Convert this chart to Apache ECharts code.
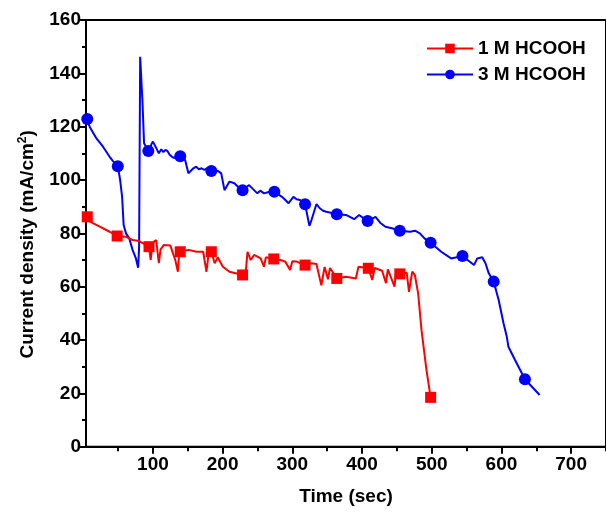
<!DOCTYPE html>
<html>
<head>
<meta charset="utf-8">
<script src="https://cdn.jsdelivr.net/npm/echarts@6/dist/echarts.min.js"></script>
<style>html,body{margin:0;padding:0;background:#fff}#c{width:606px;height:516px}</style>
</head>
<body>
<div id="c"></div>
<script>
const seriesNames = ['1 M HCOOH', '3 M HCOOH'];
const time1 = [4,5.8,9.6,23.7,37.9,48.7,61.4,70.8,80.2,94.4,96.8,99,101.4,104.7,108.5,111,115.6,125,132.1,135.8,137.5,139.2,150.9,162.6,172.1,176.8,180,183.8,188.6,193,200.3,209.8,228.6,233,235.7,240.3,245.1,254.5,259.3,262,273.4,282.7,289.8,296.8,300,306.3,318.3,327.5,334.6,341.6,346.3,351.1,354,363.8,377,391.1,394.9,409,414.7,418,428.8,434.4,437,446.6,449,454.2,464.1,467.4,472,475.8,480.5,485.3,492.4,498.4];
const current1 = [86.5,86.2,84.4,82.5,80.6,79,78.7,77.5,77.1,75,70,75.5,76.9,77.5,68.8,74,75.6,75.4,70,65.6,72,73.1,73.8,73.1,73.1,65.6,72.5,73.1,68.8,71,67.5,65.6,64.4,65,73.1,70,71.9,70.6,67.5,71,70.4,70,69.4,66.3,69.5,69.4,68.1,68.8,68.5,60.5,67.4,62.8,67,63.1,63.7,63.1,67.5,66.9,62.5,67,66,61.3,66.5,60,66,64.8,65.2,58.1,65.6,64.4,57.5,43.8,28.8,18.5];
const markers1 = [5.8,48.7,94.4,139.2,183.8,228.6,273.4,318.3,363.8,409,454.2,498.4];

const time2 = [4,5.8,9.6,19,28.4,37.9,43,49.6,53,55.8,58,61.4,66.1,70.8,75.6,78.8,80.2,81.7,84.9,87.3,93.4,96,98,100,103.8,108.5,112,115,118,121,124,127.3,131,135,139.2,146.2,150.9,158,162,166,169.7,174,178,183.8,188,193,198,202.7,209.8,216.9,222,228.6,238,244,249.8,254,259.3,266,274.2,285.1,290,294.6,301.6,306,311,318.3,324.5,327.5,334.6,339,344,348.7,363.8,377,388.7,395.8,408,419.3,426,433.5,442.9,454.2,468.8,476,482.9,490,498.4,513.6,527.7,544.1,560.6,565.3,572.4,577.1,581.8,588.9,596,603,607.7,610,619.5,633.7,654.8];
const current2 = [123.5,122.9,119.8,115.6,112.5,108.7,107,105.2,100,93.7,83.1,80,78.1,73.8,70.6,67.1,75,146.2,130,113.8,110.9,112,113.5,114.4,112.5,110,111.5,110.5,111.3,110.8,109.5,108.7,108.2,109.5,108.9,107.5,102.5,104.4,105,104,104.4,103.8,104.5,103.4,103,103.5,102.5,96.2,99.4,98.8,97.5,96.2,98.1,96.5,95,96,95,95.5,95.6,93.7,92.5,91.3,93.7,92.8,92.5,90.9,82.8,85,91,89.5,88.5,88.1,87.2,86.9,85.3,86.9,84.6,86.2,84,82.5,81.9,81,80.6,81,80,78,76.5,73.1,70.6,71.5,68.1,70.6,71,68.8,65,61.9,55,46.3,41.2,37.5,32.5,25.3,19.4];
const markers2 = [5.8,49.6,93.4,139.2,183.8,228.6,274.2,318.3,363.8,408,454.2,498.4,544.1,588.9,633.7];

const xLabels = [100,200,300,400,500,600,700];
const xMinor = [50,150,250,350,450,550,650,750];

const FONT = '"Liberation Sans", Arial, sans-serif';

function build(t, v, marks) {
  return t.map((x, i) => marks.indexOf(x) >= 0 ? {value:[x, v[i]]} : {value:[x, v[i]], symbol:'none'});
}

const G = {left:86, top:20, width:528, height:426.7};
const chart = echarts.init(document.getElementById('c'), null, {renderer:'canvas'});
chart.setOption({
  animation: false,
  backgroundColor: '#fff',
  grid: [
    Object.assign({show:true, borderColor:'#000', borderWidth:2, backgroundColor:'transparent'}, G),
    Object.assign({show:false}, G)
  ],
  legend: {
    orient:'vertical', left:421, top:34, itemWidth:46, itemHeight:12, itemGap:7,
    textStyle:{fontFamily:FONT, fontWeight:'bold', fontSize:19, color:'#000', lineHeight:19},
    data: seriesNames
  },
  xAxis: [{
    type:'value', min:4, max:750, gridIndex:0,
    axisLine:{lineStyle:{color:'#000', width:2}},
    axisTick:{show:true, length:7, lineStyle:{color:'#000', width:2}, customValues: xLabels},
    axisLabel:{fontFamily:FONT, fontWeight:'bold', fontSize:19, color:'#000', margin:9, customValues: xLabels},
    splitLine:{show:false},
    name:'Time (sec)', nameLocation:'middle', nameGap:41,
    nameTextStyle:{fontFamily:FONT, fontWeight:'bold', fontSize:19, color:'#000'}
  },{
    type:'value', min:4, max:750, gridIndex:1, position:'bottom',
    axisLine:{show:false},
    axisTick:{show:true, length:4.5, lineStyle:{color:'#000', width:2}, customValues: xMinor},
    axisLabel:{show:false},
    splitLine:{show:false}
  }],
  yAxis: [{
    type:'value', min:0, max:160, interval:20, gridIndex:0,
    axisLine:{show:true, lineStyle:{color:'#000', width:2}},
    axisTick:{show:true, length:6, lineStyle:{color:'#000', width:2}},
    minorTick:{show:true, splitNumber:2, length:4, lineStyle:{color:'#000', width:2}},
    axisLabel:{fontFamily:FONT, fontWeight:'bold', fontSize:19, color:'#000', margin:5},
    splitLine:{show:false},
    name:'{a|Current density (mA/cm}{s|2}{a|)}', nameLocation:'middle', nameGap:47,
    nameTextStyle:{
      color:'#000', padding:[0,22,0,0],
      rich:{
        a:{fontFamily:FONT, fontWeight:'bold', fontSize:19, color:'#000'},
        s:{fontFamily:FONT, fontWeight:'bold', fontSize:12, color:'#000', verticalAlign:'bottom', padding:[0,0,10,0]}
      }
    }
  },{
    type:'value', min:0, max:160, gridIndex:1, show:false
  }],
  series: [{
    name: seriesNames[0], type:'line', xAxisIndex:0, yAxisIndex:0,
    data: build(time1, current1, markers1),
    symbol:'rect', symbolSize:11, showAllSymbol:true,
    lineStyle:{color:'#ff0000', width:2}, itemStyle:{color:'#ff0000'},
    z:3
  },{
    name: seriesNames[1], type:'line', xAxisIndex:0, yAxisIndex:0,
    data: build(time2, current2, markers2),
    symbol:'circle', symbolSize:12, showAllSymbol:true,
    lineStyle:{color:'#0000ff', width:2}, itemStyle:{color:'#0000ff'},
    z:2
  }]
});
</script>
</body>
</html>
